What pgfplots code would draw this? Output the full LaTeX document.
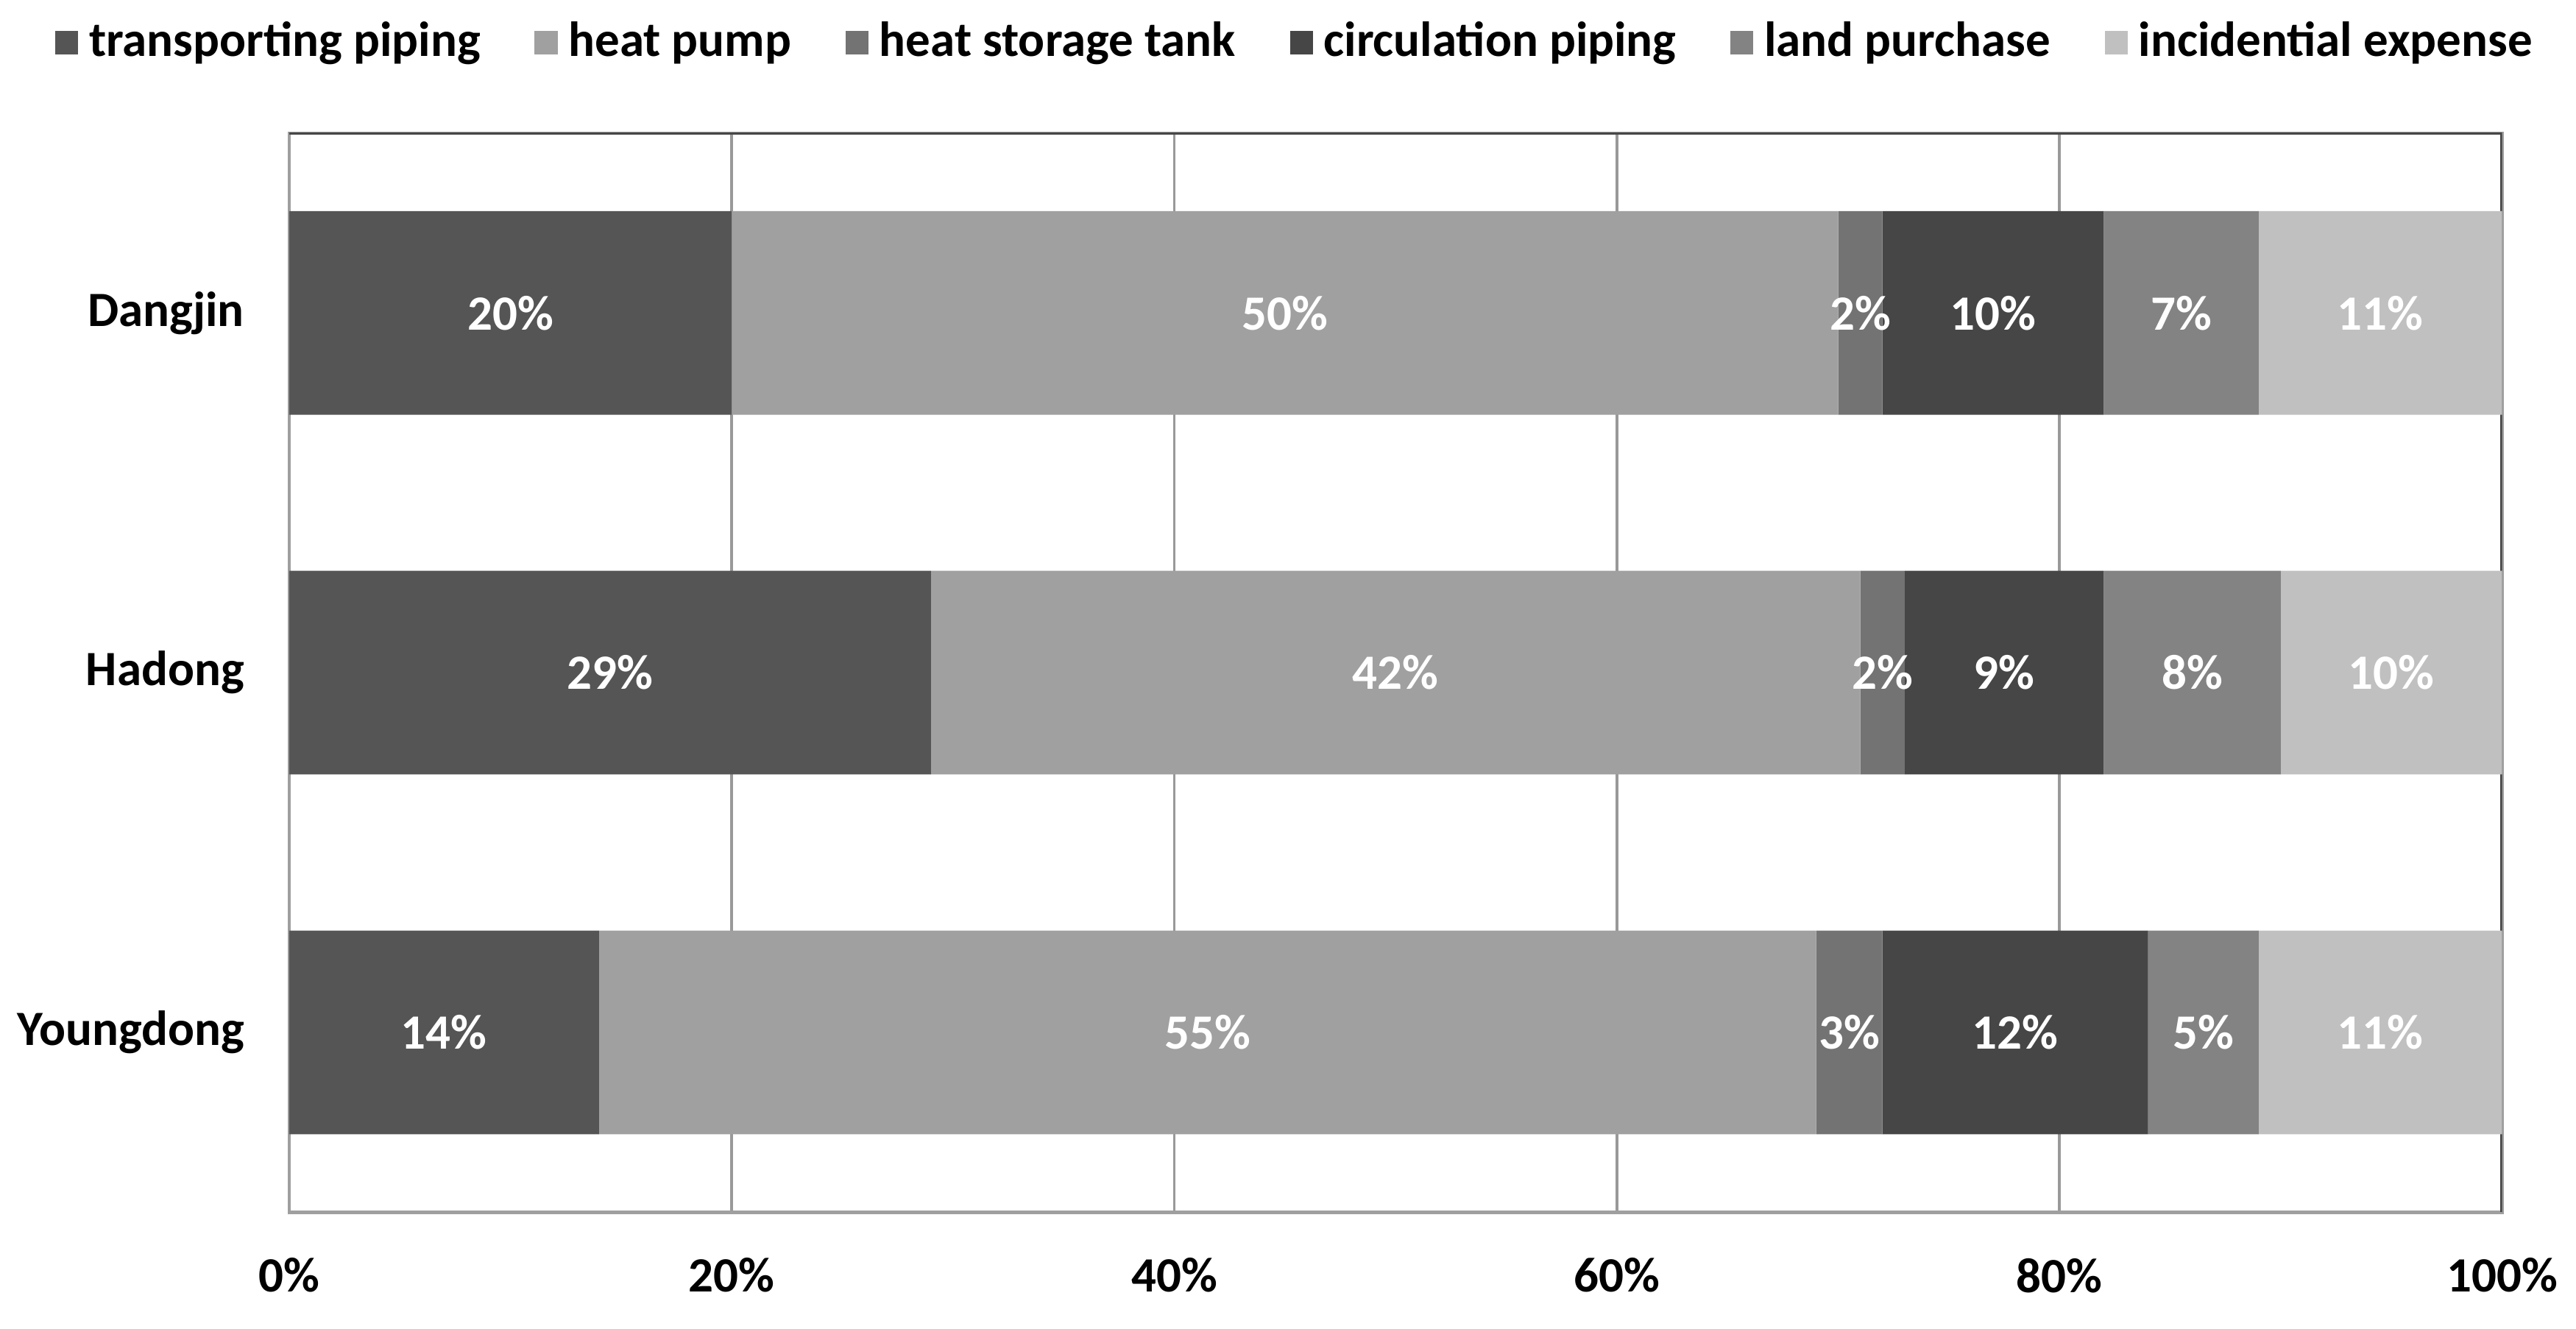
\documentclass[border=0pt]{standalone}
\usepackage{fontspec}
\setmainfont{Carlito}
\usepackage{pgfplots}
\pgfplotsset{compat=1.18}
\definecolor{cA}{RGB}{85,85,85}
\definecolor{cB}{RGB}{160,160,160}
\definecolor{cC}{RGB}{115,115,115}
\definecolor{cD}{RGB}{70,70,70}
\definecolor{cE}{RGB}{131,131,131}
\definecolor{cF}{RGB}{192,192,192}
\begin{document}
\bfseries\fontsize{9}{11}\selectfont
\begin{tikzpicture}
\useasboundingbox (-52.8pt,-21.3pt) rectangle (417.6pt,221.4pt);
\pgfplotsset{
  base/.style={
    scale only axis, width=404.1pt, height=197.1pt,
    xmin=0, xmax=100, ymin=-0.5, ymax=2.5, y dir=reverse,
  }
}
\begin{axis}[base,
  xbar stacked, bar width=37.2pt,
  axis line style={draw=gray!75, line width=0.6pt},
  xmajorgrids, major grid style={draw=gray!80, line width=0.5pt},
  xtick={0,20,40,60,80,100},
  xticklabels={0\%,20\%,40\%,60\%,80\%,100\%},
  ytick={0,1,2}, yticklabels={Dangjin,Hadong,Youngdong},
  major tick length=0pt,
  xticklabel style={yshift=-5.2pt},
  yticklabel style={xshift=-5.0pt},
  legend columns=6,
  legend style={draw=none, fill=none, at={(0.4565,1.0837)}, anchor=center,
    /tikz/every even column/.append style={column sep=7.9pt}},
  legend cell align=left,
  legend image code/.code={\fill[#1] (0pt,-2.1pt) rectangle (4.2pt,2.1pt);},
]
\addplot[fill=cA, draw=none] coordinates {(20,0) (29,1) (14,2)};
\addplot[fill=cB, draw=none] coordinates {(50,0) (42,1) (55,2)};
\addplot[fill=cC, draw=none] coordinates {(2,0) (2,1) (3,2)};
\addplot[fill=cD, draw=none] coordinates {(10,0) (9,1) (12,2)};
\addplot[fill=cE, draw=none] coordinates {(7,0) (8,1) (5,2)};
\addplot[fill=cF, draw=none] coordinates {(11,0) (10,1) (11,2)};
\legend{transporting piping, heat pump, heat storage tank, circulation piping, land purchase, incidential expense}
\draw[draw=black!72, line width=0.6pt] (axis description cs:0,1) -- (axis description cs:1,1) -- (axis description cs:1,0);
\end{axis}
\begin{axis}[base, hide axis]
\addplot[draw=none, mark=none, nodes near coords={\pgfplotspointmeta\%},
  point meta=explicit symbolic,
  nodes near coords style={anchor=center, text=white}]
  table[meta=lab] {
x y lab
10 0 20
45 0 50
71 0 2
77 0 10
85.5 0 7
94.5 0 11
14.5 1 29
50 1 42
72 1 2
77.5 1 9
86 1 8
95 1 10
7 2 14
41.5 2 55
70.5 2 3
78 2 12
86.5 2 5
94.5 2 11
};
\end{axis}
\end{tikzpicture}
\end{document}
